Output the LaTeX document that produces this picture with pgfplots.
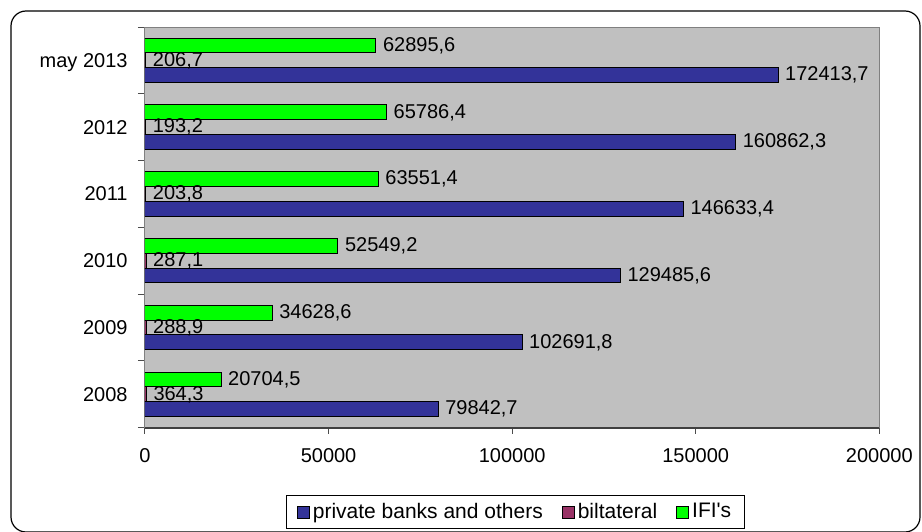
\documentclass[border=0pt]{standalone}
\usepackage{fontspec}
\setmainfont{Liberation Sans}
\usepackage{pgfplots}
\usepackage{pgfplotstable}
\pgfplotsset{compat=1.18}
\definecolor{pbblue}{HTML}{333399}
\definecolor{bilat}{HTML}{993366}
\definecolor{ifigreen}{HTML}{00FF00}
\definecolor{plotbg}{HTML}{C0C0C0}

\pgfplotstableread{
c v lbl
0 79842.7 79842,7
1 102691.8 102691,8
2 129485.6 129485,6
3 146633.4 146633,4
4 160862.3 160862,3
5 172413.7 172413,7
}\privatetab
\pgfplotstableread{
c v lbl
0 364.3 364,3
1 288.9 288,9
2 287.1 287,1
3 203.8 203,8
4 193.2 193,2
5 206.7 206,7
}\bilattab
\pgfplotstableread{
c v lbl
0 20704.5 20704,5
1 34628.6 34628,6
2 52549.2 52549,2
3 63551.4 63551,4
4 65786.4 65786,4
5 62895.6 62895,6
}\ifitab

\begin{document}
\fontsize{10}{12}\selectfont
\begin{tikzpicture}
\useasboundingbox (0,0) rectangle (461pt,265.5pt);
\draw[rounded corners=7.5pt, line width=0.6pt] (5.5pt,-0.5pt) rectangle (460pt,260pt);
\begin{axis}[
  at={(72.5pt,51.65pt)}, anchor=south west,
  scale only axis, width=367.15pt, height=200.35pt,
  xbar, bar width=0.222,
  xmin=0, xmax=200000, ymin=-0.5, ymax=5.5,
  axis background/.style={fill=plotbg},
  axis line style={draw=gray, line width=0.5pt},
  tick align=outside, tick pos=left,
  xtick={0,50000,100000,150000,200000},
  xticklabels={0,50000,100000,150000,200000},
  scaled x ticks=false,
  ytick={0,...,5},
  yticklabels={2008,2009,2010,2011,2012,may 2013},
  minor ytick={-0.5,0.5,...,5.5},
  tick style={draw=black!70, line width=0.5pt},
  major y tick style={draw=none},
  major tick length=3pt, minor tick length=3.5pt,
  xticklabel style={yshift=-3.7pt},
  yticklabel style={xshift=-2.2pt, text depth=0pt},
  /pgf/number format/assume math mode=true,
  point meta=explicit symbolic,
  nodes near coords,
  nodes near coords align={horizontal},
  every node near coord/.append style={black, anchor=west},
  legend style={at={(axis description cs:0.5046,-0.2104)}, anchor=center,
    draw=black, line width=0.5pt, fill=white, legend columns=-1,
    inner xsep=5pt, inner ysep=1.5pt, font=\fontsize{10.5}{12.5}\selectfont,
    /tikz/every even column/.append style={column sep=8pt},
    nodes={inner xsep=1.5pt, inner ysep=2.2pt}},
  legend cell align=left,
  mybar/.style={fill=#1, draw=black, line width=0.5pt,
    legend image code/.code={\draw[fill=#1, draw=black, line width=0.5pt] (0pt,-3pt) rectangle (6pt,3pt);}},
  after end axis/.code={\draw[line width=0.8pt, black!75] (rel axis cs:0,0) -- (rel axis cs:1,0);},
]
\addplot[mybar=pbblue, bar shift=-0.222] table[x=v, y=c, meta=lbl] {\privatetab};
\addlegendentry{private banks and others}
\addplot[mybar=bilat, bar shift=0] table[x=v, y=c, meta=lbl] {\bilattab};
\addlegendentry{biltateral}
\addplot[mybar=ifigreen, bar shift=0.222] table[x=v, y=c, meta=lbl] {\ifitab};
\addlegendentry{IFI\textquotesingle s}
\end{axis}
\end{tikzpicture}
\end{document}
